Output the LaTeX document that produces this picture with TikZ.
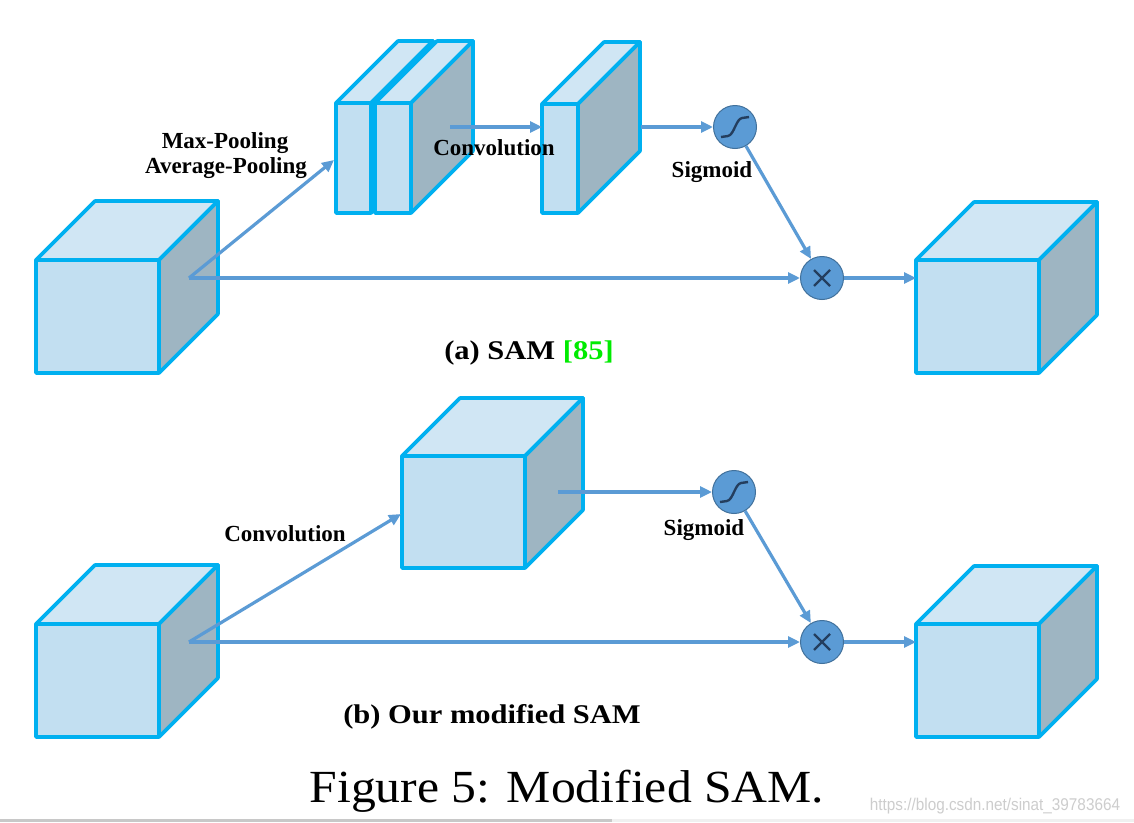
\documentclass[tikz,border=0pt]{standalone}
\usepackage{fontspec}
\setmainfont{Liberation Serif}
\newfontfamily\wmfont{Liberation Sans}
\usetikzlibrary{arrows.meta}
\definecolor{edgecyan}{RGB}{0,176,240}
\definecolor{frontfill}{RGB}{194,223,241}
\definecolor{topfill}{RGB}{208,230,244}
\definecolor{sidefill}{RGB}{158,181,194}
\definecolor{arrowblue}{RGB}{91,155,213}
\definecolor{circedge}{RGB}{65,113,156}
\definecolor{symbdark}{RGB}{36,62,94}
\definecolor{refgreen}{RGB}{0,235,0}
\definecolor{wmgray}{RGB}{205,205,205}
\definecolor{bardark}{RGB}{200,200,200}
\definecolor{barlight}{RGB}{240,240,240}
\newcommand\featbox[5]{%
  \draw[boxline,fill=topfill] (#1,#2) -- ++(#5,-#5) -- ++(#3,0) -- ++(-#5,#5) -- cycle;
  \draw[boxline,fill=sidefill] (#1+#3,#2) -- ++(#5,-#5) -- ++(0,#4) -- ++(-#5,#5) -- cycle;
  \draw[boxline,fill=frontfill] (#1,#2) rectangle ++(#3,#4);
}
\tikzset{
  boxline/.style={draw=edgecyan, line width=3.6pt, line join=round},
  conn/.style={draw=arrowblue, line width=3.2pt, -{Triangle[length=12pt,width=11pt]}},
  sigcirc/.style={circle, fill=arrowblue, draw=circedge, line width=1pt, minimum size=43pt, inner sep=0pt},
  symb/.style={draw=symbdark, line width=2.4pt},
  lbl/.style={font=\fontsize{23}{26}\selectfont\bfseries, inner sep=0pt, anchor=base},
  capt/.style={font=\fontsize{27}{30}\selectfont\bfseries, inner sep=0pt, anchor=base, xscale=1.13},
  figcap/.style={font=\fontsize{46}{50}\selectfont, inner sep=0pt, anchor=base, xscale=1.08},
  wmark/.style={font=\wmfont\fontsize{17}{19}\selectfont, text=wmgray, inner sep=0pt, anchor=base, xscale=0.9}
}
\begin{document}
\begin{tikzpicture}[x=1pt,y=-1pt]
\useasboundingbox (0,0) rectangle (1134,822);
\fill[white] (0,0) rectangle (1134,822);
\fill[bardark] (0,819) rectangle (612,822);
\fill[barlight] (612,819) rectangle (1134,822);

% ---------- (a) SAM ----------
\featbox{36}{260}{123}{113}{59}
\featbox{916}{260}{123}{113}{58}
\featbox{336}{103}{35}{110}{62}
\featbox{375}{103}{36}{110}{62}
\featbox{542}{104}{36}{109}{62}

\coordinate (split1) at (189,278);
\coordinate (poolin) at (334,160);
\coordinate (convout1) at (450,127);
\coordinate (slab3in) at (542,127);
\coordinate (slab3out) at (641,127);
\coordinate (out1in) at (916,278);
\node[sigcirc] (sig1) at (735,127) {};
\node[sigcirc] (mul1) at (822,278) {};

\draw[conn] (split1) -- (poolin);
\draw[conn] (split1) -- (mul1);
\draw[conn] (convout1) -- (slab3in);
\draw[conn] (slab3out) -- (sig1);
\draw[conn] (sig1) -- (mul1);
\draw[conn] (mul1) -- (out1in);

\draw[symb] ([shift={(-14,10)}]sig1.center) -- ++(7,-1) .. controls +(6,-1) and +(-6,1) .. ++(14,-18) -- ++(7,-1);
\draw[symb] ([shift={(-8,-8)}]mul1.center) -- ([shift={(8,8)}]mul1.center);
\draw[symb] ([shift={(-8,8)}]mul1.center) -- ([shift={(8,-8)}]mul1.center);

\node[lbl] (mp) at (225,148) {Max-Pooling};
\node[lbl] (ap) at (226,173) {Average-Pooling};
\node[lbl] (cv1) at (494,155) {Convolution};
\node[lbl] (sg1) at (712,177) {Sigmoid};
\node[capt] (capa) at (529,359) {(a) SAM \textcolor{refgreen}{[85]}};

% ---------- (b) modified SAM ----------
\featbox{36}{624}{123}{113}{59}
\featbox{916}{624}{123}{113}{58}
\featbox{402}{456}{123}{112}{58}

\coordinate (split2) at (189,642);
\coordinate (midin) at (401,514);
\coordinate (midout) at (558,492);
\coordinate (out2in) at (916,642);
\node[sigcirc] (sig2) at (734,492) {};
\node[sigcirc] (mul2) at (822,642) {};

\draw[conn] (split2) -- (midin);
\draw[conn] (split2) -- (mul2);
\draw[conn] (midout) -- (sig2);
\draw[conn] (sig2) -- (mul2);
\draw[conn] (mul2) -- (out2in);

\draw[symb] ([shift={(-14,10)}]sig2.center) -- ++(7,-1) .. controls +(6,-1) and +(-6,1) .. ++(14,-18) -- ++(7,-1);
\draw[symb] ([shift={(-8,-8)}]mul2.center) -- ([shift={(8,8)}]mul2.center);
\draw[symb] ([shift={(-8,8)}]mul2.center) -- ([shift={(8,-8)}]mul2.center);

\node[lbl] (cv2) at (285,541) {Convolution};
\node[lbl] (sg2) at (704,535) {Sigmoid};
\node[capt] (capb) at (492,723) {(b) Our modified SAM};

\node[figcap] (fig) at (567,802) {Figure 5: Modified SAM.};
\node[wmark] (wm) at (995,810) {https://blog.csdn.net/sinat\_39783664};
\end{tikzpicture}
\end{document}
